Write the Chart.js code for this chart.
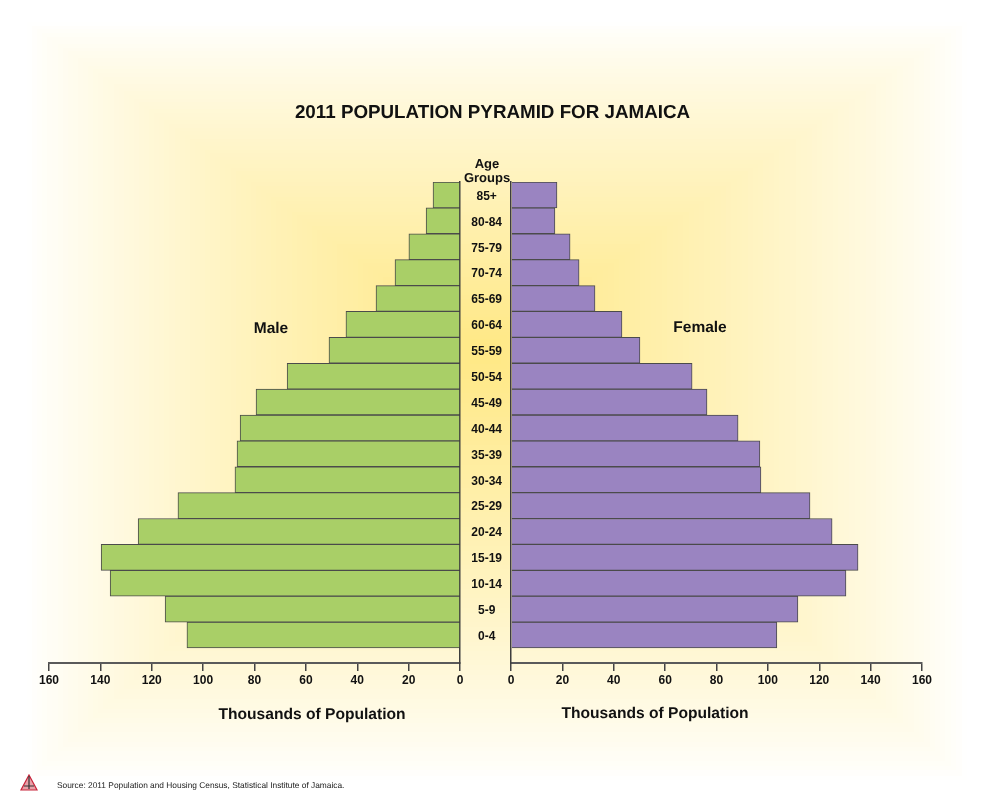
<!DOCTYPE html>
<html>
<head>
<meta charset="utf-8">
<title>2011 Population Pyramid for Jamaica</title>
<script src="https://cdn.jsdelivr.net/npm/chart.js@4/dist/chart.umd.min.js"></script>
<style>
	html, body { margin: 0; padding: 0; background: #fff; }
	#page { position: relative; width: 994px; height: 806px; overflow: hidden; font-family: "Liberation Sans", Arial, sans-serif; color: #111; text-rendering: geometricPrecision; }
	#page canvas, #page .txt, #page svg { position: absolute; }
	.txt { font-weight: bold; white-space: nowrap; transform: translate(-50%, -50%); line-height: 1; }
	#source { font-weight: normal; font-size: 8.35px; color: #222; transform: none; left: 57px; top: 781px; }
</style>
</head>
<body>
<div id="page">
	<canvas id="bg" width="994" height="806"></canvas>
	<div id="chart-male" style="position:absolute;left:29px;top:170px;width:440px;height:530px"><canvas id="maleChart"></canvas></div>
	<div id="chart-female" style="position:absolute;left:460px;top:170px;width:490px;height:530px"><canvas id="femaleChart"></canvas></div>

	<div class="txt" style="left:492.5px;top:112px;font-size:18.8px">2011 POPULATION PYRAMID FOR JAMAICA</div>
	<div class="txt" style="left:487px;top:163px;font-size:13px">Age</div>
	<div class="txt" style="left:487px;top:177px;font-size:13px">Groups</div>
	<div class="txt" style="left:271px;top:329px;font-size:15.5px">Male</div>
	<div class="txt" style="left:700px;top:328px;font-size:15.5px">Female</div>
	<div class="txt" style="left:312px;top:715px;font-size:15.6px">Thousands of Population</div>
	<div class="txt" style="left:655px;top:714px;font-size:15.6px">Thousands of Population</div>
	<div class="txt" id="source">Source: 2011 Population and Housing Census, Statistical Institute of Jamaica.</div>

	<svg style="left:20px;top:774px" width="18" height="17" viewBox="0 0 18 17">
		<path d="M9 1 L17 16 L1 16 Z" fill="#e8a0a8" stroke="#c8243a" stroke-width="1.2"/>
		<path d="M9 2 V15 M4 12 H14" stroke="#333" stroke-width="1.2"/>
	</svg>
</div>

<script>
var ageGroups = ['0-4', '5-9', '10-14', '15-19', '20-24', '25-29', '30-34', '35-39', '40-44',
	'45-49', '50-54', '55-59', '60-64', '65-69', '70-74', '75-79', '80-84', '85+'];
var maleValues = [106.3, 114.8, 136.2, 139.7, 125.3, 109.8, 87.6, 86.8, 85.6,
	79.4, 67.3, 51, 44.4, 32.7, 25.3, 19.9, 13.2, 10.5];
var femaleValues = [103.5, 111.7, 130.4, 135.1, 125, 116.4, 97.3, 96.9, 88.4,
	76.3, 70.5, 50.2, 43.2, 32.7, 26.5, 23, 17.1, 17.9];
var xTicks = [0, 20, 40, 60, 80, 100, 120, 140, 160];

// background glow, nested rectangles from the outer box in to the middle
function paintBackground() {
	var ctx = document.getElementById('bg').getContext('2d');
	var steps = 90;
	for (var i = 0; i <= steps; i++) {
		var t = i / steps;
		var c = Math.pow(t, 0.85);
		var l = 27 + (485 - 27) * t, r = 967 + (485 - 967) * t;
		var top = 22 + (350 - 22) * t, bottom = 780 + (350 - 780) * t;
		ctx.fillStyle = 'rgb(255,' + Math.round(255 - 23 * c) + ',' + Math.round(254 - 122 * c) + ')';
		ctx.fillRect(Math.round(l), Math.round(top), Math.round(r - l), Math.round(bottom - top));
	}
}
paintBackground();

function makeChart(id, values, color, isMale) {
	var ctx = document.getElementById(id).getContext('2d');
	var yTicks = {
		display: !isMale,
		autoSkip: false,
		stepSize: 1,
		crossAlign: 'center',
		padding: 1,
		labelOffset: 1.5,
		color: '#111',
		font: { family: '"Liberation Sans"', size: 12, weight: 'bold' },
		callback: function (v) { return ageGroups[v]; }
	};
	return new Chart(ctx, {
		type: 'bar',
		data: {
			datasets: [{
				data: values.map(function (v, i) { return { x: v, y: i }; }),
				backgroundColor: color,
				borderColor: '#4b4b4b',
				borderWidth: 1,
				barThickness: 25.9
			}]
		},
		options: {
			indexAxis: 'y',
			responsive: true,
			maintainAspectRatio: false,
			animation: false,
			layout: { padding: isMale ? { left: 20, right: 9, top: 12 } : { right: 28, top: 12 } },
			plugins: { legend: { display: false }, tooltip: { enabled: false } },
			scales: {
				x: {
					type: 'linear',
					min: 0,
					max: 160,
					reverse: isMale,
					afterBuildTicks: function (axis) {
						axis.ticks = xTicks.map(function (v) { return { value: v }; });
					},
					afterFit: function (axis) { axis.height = 37; },
					grid: { drawOnChartArea: false, drawTicks: true, tickLength: 8, color: '#444', lineWidth: 1.5 },
					border: { display: true, color: '#5a5a5a', width: 2 },
					ticks: {
						maxRotation: 0,
						autoSkip: false,
						padding: 2,
						color: '#111',
						font: { family: '"Liberation Sans"', size: 12, weight: 'bold' }
					}
				},
				y: {
					type: 'linear',
					offset: false,
					min: -1.08,
					max: 17.5,
					position: isMale ? 'right' : 'left',
					afterBuildTicks: function (axis) {
						axis.ticks = ageGroups.map(function (g, i) { return { value: i }; });
					},
					afterFit: function (axis) { axis.width = isMale ? 0 : 51; },
					grid: { display: false },
					border: { display: true, color: '#3d3d3d', width: 1.5 },
					ticks: yTicks
				}
			}
		}
	});
}

makeChart('maleChart', maleValues, '#a9cf67', true);
makeChart('femaleChart', femaleValues, '#9a84c1', false);
</script>
</body>
</html>
